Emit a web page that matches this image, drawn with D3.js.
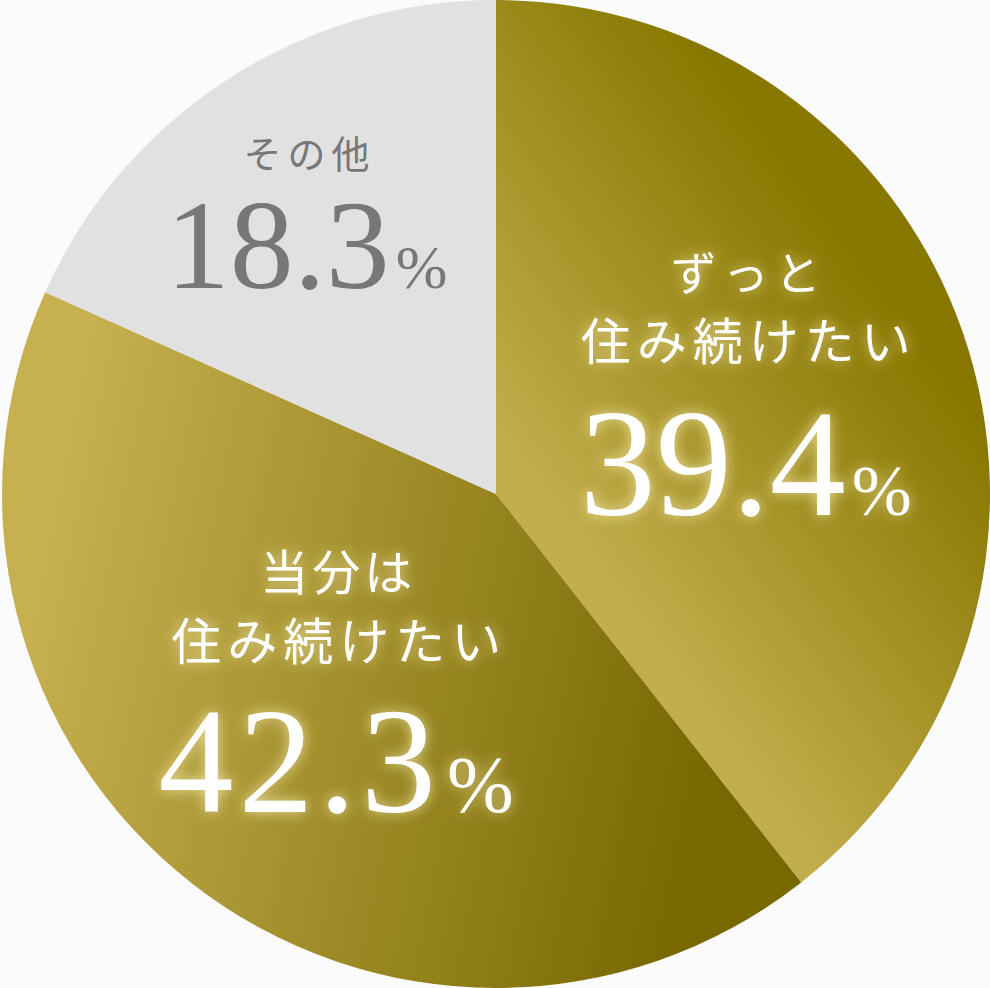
<!DOCTYPE html>
<html>
<head>
<meta charset="utf-8">
<script src="https://cdn.jsdelivr.net/npm/d3@7"></script>
<style>
  html, body { margin: 0; padding: 0; background: #fbfbfb; }
  svg { display: block; }
</style>
</head>
<body>
<div id="chart"></div>
<script>
// data
var categories = ["ずっと住み続けたい", "当分は住み続けたい", "その他"];
var values = [39.4, 42.3, 18.3];
var labelLines = [["ずっと", "住み続けたい"], ["当分は", "住み続けたい"], ["その他"]];

var width = 990, height = 988;
var cx = 496, cy = 494, radius = 494;

var svg = d3.select("#chart")
  .append("svg")
  .attr("width", width)
  .attr("height", height);

var defs = svg.append("defs");

// gradient per slice, coords relative to centre in radius units
var grads = [
  {id: "g0", x1: 0.05, y1: -0.04, x2: 0.70, y2: -0.52, from: "#c2ae4c", to: "#887700"},
  {id: "g1", x1: -0.86, y1: -0.17, x2: 0.53, y2: 0.11, from: "#c6b050", to: "#786800"},
  {id: "g2", x1: 0, y1: 0, x2: 1, y2: 0, from: "#e1e1e1", to: "#e1e1e1"}
];
grads.forEach(function(g) {
  var lg = defs.append("linearGradient")
    .attr("id", g.id)
    .attr("gradientUnits", "userSpaceOnUse")
    .attr("x1", g.x1 * radius).attr("y1", g.y1 * radius)
    .attr("x2", g.x2 * radius).attr("y2", g.y2 * radius);
  lg.append("stop").attr("offset", "0%").attr("stop-color", g.from);
  lg.append("stop").attr("offset", "100%").attr("stop-color", g.to);
});

// soft glow behind the white labels
var glow = defs.append("filter")
  .attr("id", "glow")
  .attr("x", "-30%").attr("y", "-30%")
  .attr("width", "160%").attr("height", "160%");
glow.append("feGaussianBlur")
  .attr("in", "SourceAlpha")
  .attr("stdDeviation", 7)
  .attr("result", "blur");
glow.append("feFlood").attr("flood-color", "#fff4c0").attr("flood-opacity", 0.75);
glow.append("feComposite").attr("in2", "blur").attr("operator", "in").attr("result", "halo");
var merge = glow.append("feMerge");
merge.append("feMergeNode").attr("in", "halo");
merge.append("feMergeNode").attr("in", "SourceGraphic");

var g = svg.append("g")
  .attr("transform", "translate(" + cx + "," + cy + ")");

var pie = d3.pie().sort(null).value(function(d) { return d; });
var arcs = pie(values);

var arc = d3.arc().innerRadius(0).outerRadius(radius);

g.selectAll("path.slice")
  .data(arcs)
  .enter()
  .append("path")
  .attr("class", "slice")
  .attr("d", arc)
  .attr("fill", function(d, i) { return "url(#g" + i + ")"; });

// label layout
var labelRadius = [260, 250, 330];
var textColor = ["#ffffff", "#ffffff", "#777777"];
var jpSize = [[46, 50], [48, 50], [38]];
var jpSpacing = [[6, 6], [4, 6], [6]];
var numSize = [152, 150, 128];
var numSpacing = [0, 5, 0];
var pctSize = [72, 80, 62];
var lineDy = [[-119, -49, 106], [-101, -31, 121], [-49, 71]];
var shiftX = [4, -6, -10];

var labels = g.selectAll("g.label")
  .data(arcs)
  .enter()
  .append("g")
  .attr("class", "label")
  .attr("transform", function(d, i) {
    var c = d3.arc().innerRadius(labelRadius[i]).outerRadius(labelRadius[i]).centroid(d);
    return "translate(" + (c[0] + shiftX[i]) + "," + c[1] + ")";
  })
  .attr("filter", function(d, i) { return i < 2 ? "url(#glow)" : null; });

labels.each(function(d, i) {
  var sel = d3.select(this);
  var lines = labelLines[i];
  lines.forEach(function(t, j) {
    sel.append("text")
      .attr("x", jpSpacing[i][j] / 2)
      .attr("y", lineDy[i][j])
      .attr("text-anchor", "middle")
      .attr("font-family", "'Noto Sans CJK JP', sans-serif")
      .attr("font-weight", 400)
      .attr("font-size", jpSize[i][j])
      .attr("letter-spacing", jpSpacing[i][j])
      .attr("fill", textColor[i])
      .text(t);
  });
  var num = sel.append("text")
    .attr("x", 0)
    .attr("y", lineDy[i][lines.length])
    .attr("text-anchor", "middle")
    .attr("font-family", "'Liberation Serif', 'DejaVu Serif', serif")
    .attr("fill", textColor[i]);
  num.append("tspan")
    .attr("font-size", numSize[i])
    .attr("letter-spacing", numSpacing[i])
    .text(d3.format(".1f")(d.data));
  num.append("tspan")
    .attr("font-size", pctSize[i])
    .attr("dx", 6)
    .text("%");
});
</script>
</body>
</html>
